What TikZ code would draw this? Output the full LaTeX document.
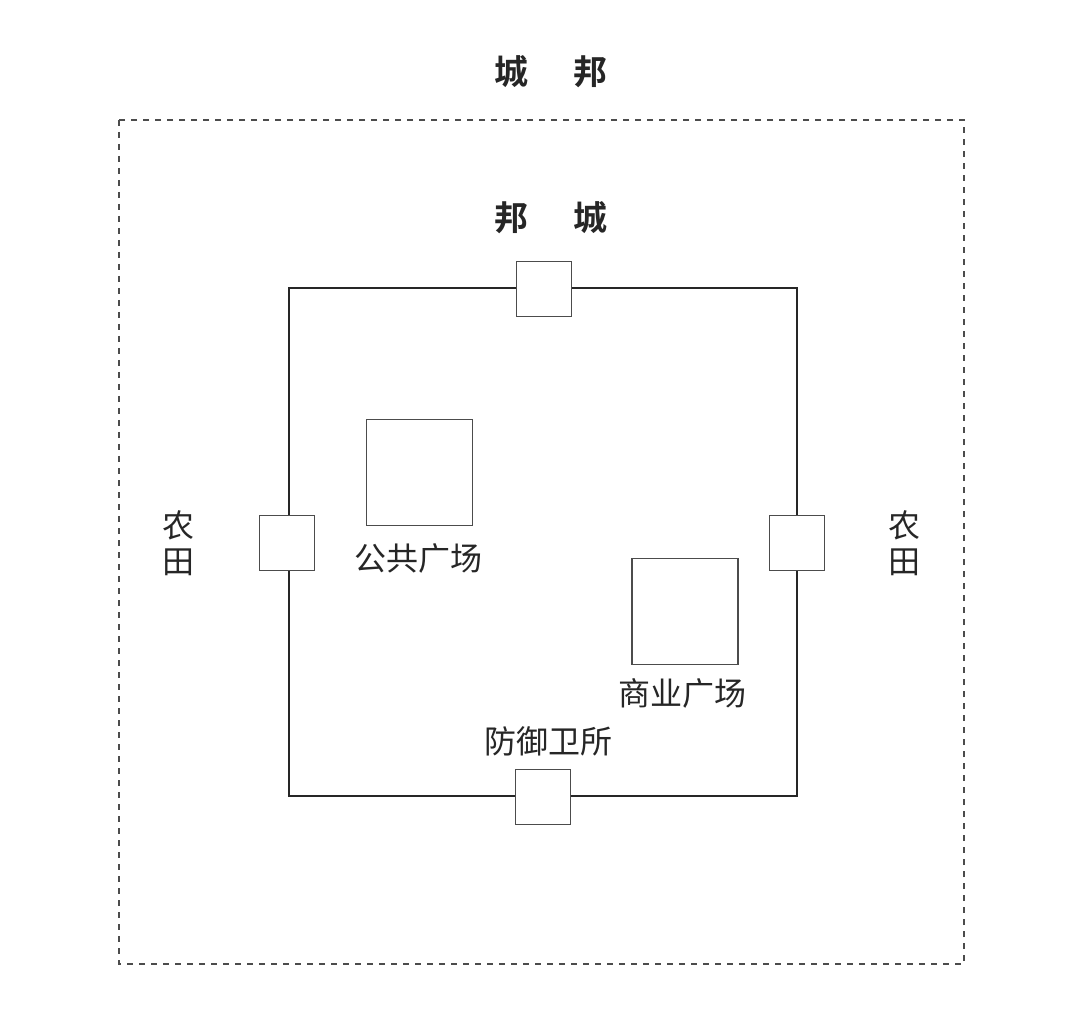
\documentclass[tikz,border=0pt]{standalone}
\usepackage{fontspec}
\newfontfamily\cjk{Noto Sans CJK SC}
\newfontfamily\cjkbold{Noto Sans CJK SC Bold}
\begin{document}
\begin{tikzpicture}[x=0.5pt,y=-0.5pt,
    gatestyle/.style={draw=black!70,fill=white,minimum size=27.5pt,inner sep=0pt,line width=0.6pt},
    plazastyle/.style={draw=black!70,minimum size=53pt,inner sep=0pt,line width=0.6pt},
    labelstyle/.style={font=\cjk\fontsize{16}{18}\selectfont,text=black!85},
    titlestyle/.style={font=\cjkbold\fontsize{17}{19}\selectfont,text=black!85}]
    \useasboundingbox (0,0) rectangle (1080,1031);

    \node [titlestyle] (outertitle) at (551,72) {城\hspace{1.3em}邦};
    \draw [dashed,black!70,line width=0.6pt] (119,120) rectangle (964,964);
    \node [titlestyle] (innertitle) at (551,218) {邦\hspace{1.3em}城};
    \draw [black!85,line width=1.1pt] (289,288) rectangle (797,796);

    % gates
    \foreach \name/\x/\y in {north/544/289, west/287/543, east/797/543, south/543/797}{
        \node [gatestyle] (gate\name) at (\x,\y) {};
    }

    \node [plazastyle] (publicplaza) at (419.5,472.5) {};
    \node [labelstyle] (publiclabel) at (418,558) {公共广场};
    \node [plazastyle] (marketplaza) at (685,611.5) {};
    \node [labelstyle] (marketlabel) at (682,693) {商业广场};
    \node [labelstyle] (guardlabel) at (548,741) {防御卫所};

    \node [labelstyle,align=center] (fieldwest) at (178,543) {农\\田};
    \node [labelstyle,align=center] (fieldeast) at (904,543) {农\\田};
\end{tikzpicture}
\end{document}
